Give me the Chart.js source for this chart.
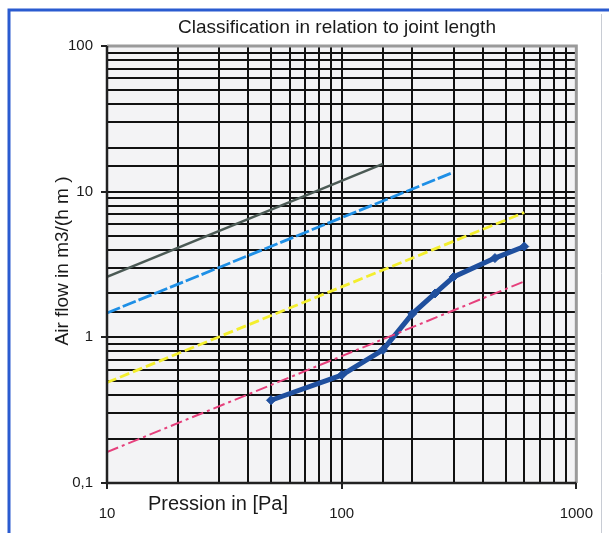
<!DOCTYPE html>
<html>
<head>
<meta charset="utf-8">
<script src="https://cdn.jsdelivr.net/npm/chart.js@4.4.0/dist/chart.umd.min.js"></script>
<style>
  html,body{margin:0;padding:0;background:#fff;}
  #wrap{position:relative;width:609px;height:533px;}
</style>
</head>
<body>
<div id="wrap"><canvas id="c" width="609" height="533"></canvas></div>
<script>
// ---- data ----
const chartTitle = "Classification in relation to joint length";
const xTitle = "Pression in [Pa]";
const yTitle = "Air flow in m3/(h m )";

const measuredPressure = [50, 100, 150, 200, 250, 300, 450, 600];
const measuredFlow     = [0.37, 0.55, 0.82, 1.45, 2.0, 2.6, 3.5, 4.2];

const class1Pressure = [10, 150];
const class1Flow     = [2.6, 15.5];
const class2Pressure = [10, 300];
const class2Flow     = [1.47, 13.6];
const class3Pressure = [10, 600];
const class3Flow     = [0.49, 7.2];
const class4Pressure = [10, 600];
const class4Flow     = [0.163, 2.42];

const xMajorTicks = [10, 100, 1000];
const yMajorTicks = [0.1, 1, 10, 100];
const yTickText = {0.1: "0,1", 1: "1", 10: "10", 100: "100"};

function pts(xs, ys){ return xs.map((x,i)=>({x:x, y:ys[i]})); }
function isMajor(v, list){ return list.some(m => Math.abs(v - m) / m < 1e-6); }

const FONT = "'Liberation Sans', Arial, sans-serif";

const decor = {
  id: 'decor',
  beforeDraw(chart){
    const ctx = chart.ctx, a = chart.chartArea;
    ctx.save();
    ctx.fillStyle = '#ffffff';
    ctx.fillRect(0,0,chart.width,chart.height);
    // scanned page frame
    ctx.strokeStyle = '#2a5bd0';
    ctx.lineWidth = 3;
    ctx.beginPath();
    ctx.moveTo(9, 533); ctx.lineTo(9, 10); ctx.lineTo(609, 10);
    ctx.stroke();
    ctx.strokeStyle = '#c8ccd4';
    ctx.lineWidth = 1;
    ctx.beginPath(); ctx.moveTo(601.5, 14); ctx.lineTo(601.5, 533); ctx.stroke();
    // plot background
    ctx.fillStyle = '#f3f3f5';
    ctx.fillRect(a.left, a.top, a.right - a.left, a.bottom - a.top);
    ctx.restore();
  },
  afterDatasetsDraw(chart){
    const ctx = chart.ctx, a = chart.chartArea;
    ctx.save();
    // gray top/right frame
    ctx.strokeStyle = '#9a9a9a';
    ctx.lineWidth = 3;
    ctx.beginPath();
    ctx.moveTo(a.left, a.top); ctx.lineTo(a.right, a.top); ctx.lineTo(a.right, a.bottom);
    ctx.stroke();
    // dark axis lines
    ctx.strokeStyle = '#222';
    ctx.lineWidth = 2.5;
    ctx.beginPath();
    ctx.moveTo(a.left, a.top); ctx.lineTo(a.left, a.bottom); ctx.lineTo(a.right, a.bottom);
    ctx.stroke();
    // titles
    ctx.fillStyle = '#1a1a1a';
    ctx.textBaseline = 'middle';
    ctx.textAlign = 'center';
    ctx.font = "19px " + FONT;
    ctx.fillText(chartTitle, 337, 28);
    ctx.font = "20px " + FONT;
    ctx.fillText(xTitle, 218, 504);
    ctx.font = "19px " + FONT;
    ctx.translate(63, 261);
    ctx.rotate(-Math.PI/2);
    ctx.fillText(yTitle, 0, 0);
    ctx.restore();
  }
};

new Chart(document.getElementById('c'), {
  type: 'line',
  data: {
    datasets: [
      { label: 'Class 1', data: pts(class1Pressure, class1Flow), borderColor: '#4b5a55', borderWidth: 2.5, pointRadius: 0 },
      { label: 'Class 2', data: pts(class2Pressure, class2Flow), borderColor: '#1e8fe6', borderWidth: 2.8, borderDash: [14, 3], pointRadius: 0 },
      { label: 'Class 3', data: pts(class3Pressure, class3Flow), borderColor: '#f3ee2e', borderWidth: 2.8, borderDash: [10, 4], pointRadius: 0 },
      { label: 'Class 4', data: pts(class4Pressure, class4Flow), borderColor: '#e6407c', borderWidth: 2, borderDash: [12, 4, 3, 4], pointRadius: 0 },
      { label: 'Measured', data: pts(measuredPressure, measuredFlow), borderColor: '#1f4f9e', backgroundColor: '#1f4f9e', borderWidth: 5,
        pointStyle: 'rectRot', pointRadius: 4.5, pointBorderWidth: 1, tension: 0 }
    ]
  },
  options: {
    responsive: false,
    animation: false,
    layout: { padding: { top: 46, right: 29, left: 0, bottom: 0 } },
    plugins: { legend: { display: false }, title: { display: false }, tooltip: { enabled: false } },
    scales: {
      x: {
        type: 'logarithmic', min: 10, max: 1000,
        afterFit(s){ s.height = 50; },
        border: { display: false },
        grid: {
          color: '#111', lineWidth: 2, tickLength: 6,
          tickColor: c => isMajor(c.tick.value, xMajorTicks) ? '#222' : 'rgba(0,0,0,0)'
        },
        ticks: {
          autoSkip: false, maxRotation: 0, padding: 16,
          color: '#1a1a1a', font: { family: FONT, size: 15 },
          callback: v => isMajor(v, xMajorTicks) ? String(v) : ''
        }
      },
      y: {
        type: 'logarithmic', min: 0.1, max: 100,
        afterFit(s){ s.width = 107; },
        border: { display: false },
        grid: {
          color: '#111', lineWidth: 2, tickLength: 6,
          tickColor: c => isMajor(c.tick.value, yMajorTicks) ? '#222' : 'rgba(0,0,0,0)'
        },
        ticks: {
          autoSkip: false, padding: 8,
          color: '#1a1a1a', font: { family: FONT, size: 15 },
          callback: v => isMajor(v, yMajorTicks) ? yTickText[Number(v.toPrecision(3))] ?? '' : ''
        }
      }
    }
  },
  plugins: [decor]
});
</script>
</body>
</html>
